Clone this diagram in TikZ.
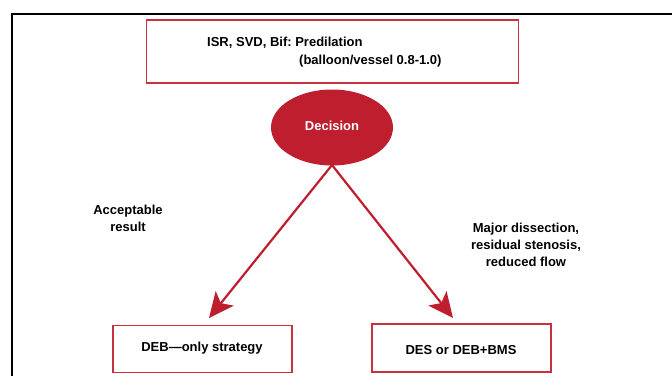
\documentclass[tikz,border=0pt]{standalone}
\usepackage{fontspec}
\setmainfont{Liberation Sans}
\usetikzlibrary{arrows.meta,shapes.geometric}
\definecolor{dred}{HTML}{BE1E2D}
\definecolor{bred}{HTML}{C8323F}
\frenchspacing
\tikzset{
  txt/.style={font=\fontsize{13}{17}\selectfont\bfseries\frenchspacing, inner sep=0pt, align=center},
  boxr/.style={draw=bred, line width=1.6pt, inner sep=0pt},
  arr/.style={draw=dred, line width=2.2pt, -{Stealth[length=25pt,width=23pt,inset=6pt]}},
}
\begin{document}
\begin{tikzpicture}[x=1pt,y=-1pt]
\useasboundingbox (0,0) rectangle (672,375);
% outer frame (partly visible)
\draw[black, line width=1.4pt] (12,380) -- (12,14) -- (680,14);
% top box
\node[boxr, minimum width=372pt, minimum height=63pt] (top) at (332.5,51.5) {};
\node[txt, anchor=west] (t1) at (207,43) {ISR, SVD, Bif: Predilation};
\node[txt, anchor=west] (t2) at (299,61) {(balloon/vessel 0.8-1.0)};
% decision
\node[ellipse, fill=dred, draw=none, minimum width=122pt, minimum height=76pt, inner sep=0pt] (dec) at (332,127.5) {};
\node[txt, text=white] (dect) at (332,126) {Decision};
% bottom boxes
\node[boxr, minimum width=179pt, minimum height=47pt] (left) at (202.5,349) {};
\node[txt] (lt) at (202,348) {DEB---only strategy};
\node[boxr, minimum width=179pt, minimum height=48pt] (right) at (461.5,348) {};
\node[txt] (rt) at (461,350) {DES or DEB+BMS};
% arrow targets
\coordinate (lt0) at (209,318);
\coordinate (rt0) at (453,318);
\coordinate (src) at (332,165);
\draw[arr] (src) -- (lt0);
\draw[arr] (src) -- (rt0);
% labels
\node[txt] (acc) at (128,218.5) {Acceptable\\result};
\node[txt] (maj) at (526,245) {Major dissection,\\residual stenosis,\\reduced flow};
\end{tikzpicture}
\end{document}
